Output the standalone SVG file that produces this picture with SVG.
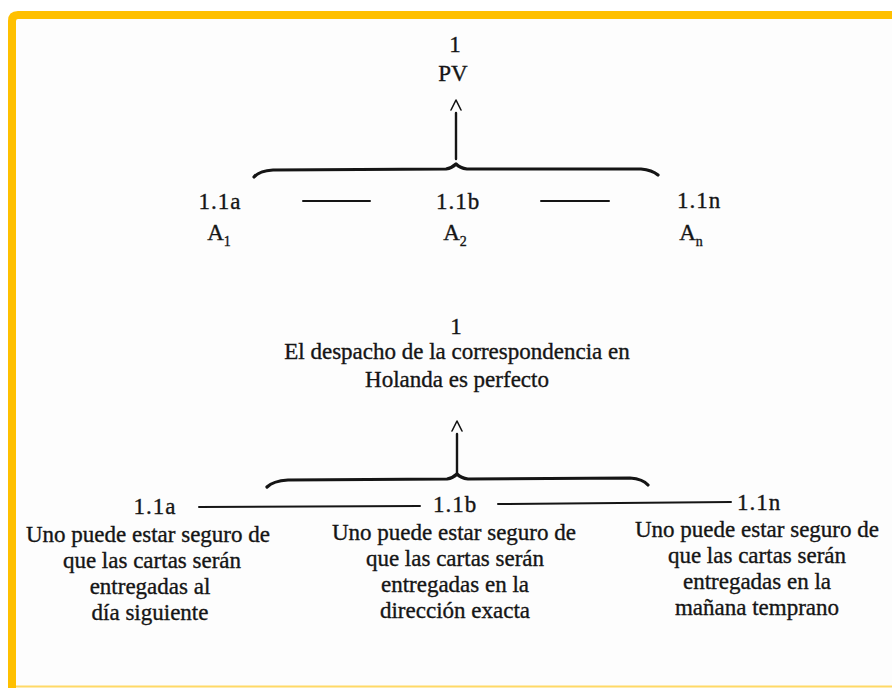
<svg xmlns="http://www.w3.org/2000/svg" width="892" height="688" viewBox="0 0 892 688">
<style>
  .t { font-family: "Liberation Serif", "Times New Roman", serif; font-size: 23px; fill: #151515; stroke: #151515; stroke-width: 0.35; text-anchor: middle; }
  .lab { letter-spacing: 1px; }
  .sub { font-size: 14px; }
  .ln { stroke: #151515; fill: none; stroke-linecap: round; stroke-linejoin: round; }
  .brace { stroke-width: 3.2; }
  .dash { stroke-width: 2; }
  .shaft { stroke-width: 2.4; }
  .head { stroke-width: 1.6; }
</style>
<rect x="0" y="0" width="892" height="688" fill="#ffffff"/>
<rect x="12" y="15" width="880" height="673" fill="#fdfdfd"/>
<!-- frame -->
<path d="M12,688 L12,21 Q12,15 18,15 L892,15" fill="none" stroke="#ffc000" stroke-width="8"/>
<line x1="16" y1="686.5" x2="892" y2="686.5" stroke="#ffd966" stroke-width="2"/>

<g id="connectors">
  <!-- top diagram -->
  <line class="ln shaft" x1="456" y1="113" x2="456" y2="159"/>
  <polyline class="ln head" points="451,110 456,100 461,110"/>
  <path class="ln brace" d="M254,177 Q259,171 273,170 L446,169 Q452,168 456,164 Q460,168 467,169 L641,169 Q652,170 658,175"/>
  <line class="ln dash" x1="303" y1="201" x2="370" y2="201"/>
  <line class="ln dash" x1="541" y1="201" x2="609" y2="201"/>
  <!-- bottom diagram -->
  <line class="ln shaft" x1="457" y1="434" x2="457" y2="473"/>
  <polyline class="ln head" points="452,431 457,421 462,431"/>
  <path class="ln brace" d="M267,487 Q273,481 288,480 L447,479 Q453,478 457,474 Q461,478 468,479 L630,478 Q643,479 648,485"/>
  <line class="ln dash" x1="199" y1="507" x2="420" y2="506"/>
  <line class="ln dash" x1="498" y1="504" x2="731" y2="502"/>
</g>

<g id="n-pv">
  <text class="t" x="455" y="52">1</text>
  <text class="t" x="453" y="81">PV</text>
</g>
<g id="n-a1">
  <text class="t lab" x="220" y="209">1.1a</text>
  <text class="t" x="219" y="240">A<tspan class="sub" dy="6">1</tspan></text>
</g>
<g id="n-a2">
  <text class="t lab" x="458" y="209">1.1b</text>
  <text class="t" x="455" y="240">A<tspan class="sub" dy="6">2</tspan></text>
</g>
<g id="n-an">
  <text class="t lab" x="699" y="208">1.1n</text>
  <text class="t" x="691" y="240">A<tspan class="sub" dy="6">n</tspan></text>
</g>

<g id="n-main">
  <text class="t" x="456" y="334">1</text>
  <text class="t" x="457" y="359">El despacho de la correspondencia en</text>
  <text class="t" x="457" y="387">Holanda es perfecto</text>
</g>
<g id="n-1a">
  <text class="t lab" x="155" y="514">1.1a</text>
  <text class="t" x="148" y="542">Uno puede estar seguro de</text>
  <text class="t" x="152" y="568">que las cartas serán</text>
  <text class="t" x="150" y="594">entregadas al</text>
  <text class="t" x="150" y="620">día siguiente</text>
</g>
<g id="n-1b">
  <text class="t lab" x="455" y="512">1.1b</text>
  <text class="t" x="454" y="540">Uno puede estar seguro de</text>
  <text class="t" x="455" y="566">que las cartas serán</text>
  <text class="t" x="455" y="592">entregadas en la</text>
  <text class="t" x="455" y="618">dirección exacta</text>
</g>
<g id="n-1n">
  <text class="t lab" x="759" y="510">1.1n</text>
  <text class="t" x="757" y="537">Uno puede estar seguro de</text>
  <text class="t" x="757" y="563">que las cartas serán</text>
  <text class="t" x="757" y="589">entregadas en la</text>
  <text class="t" x="757" y="615">mañana temprano</text>
</g>
</svg>
